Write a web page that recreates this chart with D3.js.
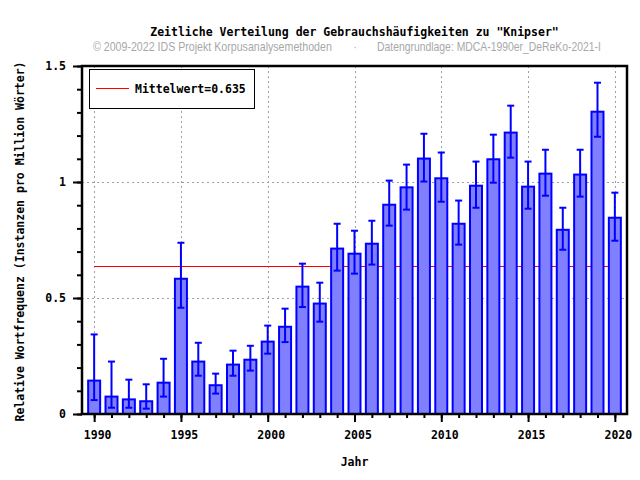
<!DOCTYPE html>
<html>
<head>
<meta charset="utf-8">
<script src="https://cdn.jsdelivr.net/npm/d3@7"></script>
<style>
  html, body { margin: 0; padding: 0; background: #fff; }
  svg { display: block; }
  .mono { font-family: "DejaVu Sans Mono", "Liberation Mono", monospace; font-weight: bold; font-size: 11.5px; fill: #000; }
  .meanline { stroke: #ff0000; stroke-width: 1px; }
</style>
</head>
<body>
<svg id="chart" width="640" height="480"></svg>
<script>
const years = d3.range(1990, 2021);
const values = [0.144, 0.075, 0.063, 0.055, 0.135, 0.583, 0.226, 0.124, 0.213, 0.234, 0.312,
                0.376, 0.549, 0.476, 0.713, 0.691, 0.734, 0.902, 0.977, 1.101, 1.016,
                0.820, 0.984, 1.098, 1.213, 0.980, 1.036, 0.794, 1.032, 1.303, 0.846];
const errHigh = [0.343, 0.226, 0.148, 0.128, 0.238, 0.738, 0.307, 0.174, 0.273, 0.294, 0.381,
                 0.454, 0.648, 0.566, 0.820, 0.790, 0.833, 1.006, 1.075, 1.208, 1.127,
                 0.920, 1.088, 1.204, 1.329, 1.088, 1.139, 0.889, 1.139, 1.428, 0.954];
const errLow = [0.060, 0.027, 0.027, 0.023, 0.075, 0.458, 0.165, 0.088, 0.165, 0.187, 0.260,
                0.310, 0.461, 0.398, 0.618, 0.605, 0.644, 0.812, 0.881, 1.002, 0.915,
                0.730, 0.889, 0.997, 1.105, 0.885, 0.941, 0.708, 0.937, 1.195, 0.747];
const meanValue = 0.635;
const xMajorTicks = [1990, 1995, 2000, 2005, 2010, 2015, 2020];
const yMajorTicks = [0, 0.5, 1, 1.5];
const yMinorTicks = d3.range(0, 16).map(d => d / 10);
const titleText = 'Zeitliche Verteilung der Gebrauchshäufigkeiten zu "Knipser"';
const creditText = "© 2009-2022 IDS Projekt Korpusanalysemethoden";
const sourceText = "Datengrundlage: MDCA-1990er_DeReKo-2021-I";
const xLabel = "Jahr";
const yLabel = "Relative Wortfrequenz (Instanzen pro Million Wörter)";
const legendLabel = "Mittelwert=0.635";

const svg = d3.select("#chart");
const L = 82, R = 627, T = 66, B = 414;
const x = d3.scaleLinear().domain([1989.3, 2020.7]).range([L, R]);
const y = d3.scaleLinear().domain([0, 1.5]).range([B, T]);
const data = years.map((yr, i) => ({ yr, v: values[i], hi: errHigh[i], lo: errLow[i] }));

// grid
const grid = svg.append("g").attr("stroke", "#a0a0a0").attr("stroke-width", 1).attr("stroke-dasharray", "2,3");
grid.selectAll("line.v").data(xMajorTicks).join("line").attr("class", "v")
  .attr("x1", d => Math.round(x(d)) + 0.5).attr("x2", d => Math.round(x(d)) + 0.5)
  .attr("y1", T).attr("y2", B);
grid.selectAll("line.h").data(yMajorTicks.filter(d => d > 0 && d < 1.5)).join("line").attr("class", "h")
  .attr("x1", L).attr("x2", R)
  .attr("y1", d => Math.round(y(d)) + 0.5).attr("y2", d => Math.round(y(d)) + 0.5);

// mean line
svg.append("line").attr("class", "meanline")
  .attr("x1", x(1990)).attr("x2", x(2020))
  .attr("y1", Math.round(y(meanValue)) - 0.5).attr("y2", Math.round(y(meanValue)) - 0.5)
  .style("stroke", "#ff0000");

// bars
const barW = 12;
svg.append("g").selectAll("rect").data(data).join("rect")
  .attr("x", d => x(d.yr) - barW / 2)
  .attr("width", barW)
  .attr("y", d => y(d.v))
  .attr("height", d => y(0) - y(d.v))
  .attr("fill", "#8080ff")
  .attr("stroke", "#0000ff")
  .attr("stroke-width", 2);

// error bars
const eb = svg.append("g").attr("stroke", "#0000ff").attr("stroke-width", 2);
eb.selectAll("line.s").data(data).join("line").attr("class", "s")
  .attr("x1", d => x(d.yr)).attr("x2", d => x(d.yr))
  .attr("y1", d => y(d.hi)).attr("y2", d => y(d.lo));
eb.selectAll("line.t").data(data).join("line").attr("class", "t")
  .attr("x1", d => x(d.yr) - 3.5).attr("x2", d => x(d.yr) + 3.5)
  .attr("y1", d => y(d.hi)).attr("y2", d => y(d.hi));
eb.selectAll("line.b").data(data).join("line").attr("class", "b")
  .attr("x1", d => x(d.yr) - 3.5).attr("x2", d => x(d.yr) + 3.5)
  .attr("y1", d => y(d.lo)).attr("y2", d => y(d.lo));

// frame
svg.append("rect").attr("x", L).attr("y", T).attr("width", R - L).attr("height", B - T)
  .attr("fill", "none").attr("stroke", "#000").attr("stroke-width", 2.5);

// x axis
const xMinor = d3.axisBottom(x).tickValues(years).tickSize(4).tickFormat("").tickSizeOuter(0);
const gxm = svg.append("g").attr("transform", `translate(0,${B})`).call(xMinor);
const xMajor = d3.axisBottom(x).tickValues(xMajorTicks).tickSize(8).tickFormat(d3.format("d")).tickSizeOuter(0).tickPadding(9);
const gx = svg.append("g").attr("transform", `translate(0,${B})`).call(xMajor);
[gxm, gx].forEach(g => {
  g.select(".domain").remove();
  g.selectAll(".tick line").attr("stroke", "#000").attr("stroke-width", 2);
});
gx.selectAll(".tick text").attr("class", "mono").attr("dx", 3).style("font-size", "11.5px");

// y axis
const yMinor = d3.axisLeft(y).tickValues(yMinorTicks).tickSize(5).tickFormat("").tickSizeOuter(0);
const gym = svg.append("g").attr("transform", `translate(${L},0)`).call(yMinor);
const yMajor = d3.axisLeft(y).tickValues(yMajorTicks).tickSize(9).tickFormat(d => d === 0 ? "0" : String(d)).tickSizeOuter(0).tickPadding(7);
const gy = svg.append("g").attr("transform", `translate(${L},0)`).call(yMajor);
[gym, gy].forEach(g => {
  g.select(".domain").remove();
  g.selectAll(".tick line").attr("stroke", "#000").attr("stroke-width", 2);
});
gy.selectAll(".tick text").attr("class", "mono").style("font-size", "11.5px");

// legend
const lg = svg.append("g");
lg.append("rect").attr("x", 89.5).attr("y", 69.5).attr("width", 165).attr("height", 39)
  .attr("fill", "#fff").attr("stroke", "#000").attr("stroke-width", 1);
lg.append("line").attr("class", "meanline").attr("x1", 96).attr("x2", 129).attr("y1", 88.5).attr("y2", 88.5);
lg.append("text").attr("class", "mono").attr("x", 135).attr("y", 92.5).text(legendLabel);

// titles
svg.append("text").attr("class", "mono").attr("x", (L + R) / 2).attr("y", 36)
  .attr("text-anchor", "middle").text(titleText);

// subtitle pieces: scale horizontally so the natural width matches the reference
function subText(str, x0, width) {
  const t = svg.append("text")
    .attr("x", 0).attr("y", 0)
    .attr("font-family", "'Liberation Sans Narrow', 'Arial Narrow', 'Liberation Sans', sans-serif")
    .attr("font-size", "12px").attr("fill", "#a8a8a8")
    .text(str);
  const w = t.node().getComputedTextLength() || width;
  t.attr("transform", `translate(${x0},50.5) scale(${width / w},1)`);
  return t;
}
subText(creditText, 93, 239);
subText(sourceText, 377, 224);
svg.append("text").attr("x", 355).attr("y", 51).attr("text-anchor", "middle")
  .attr("font-family", "'Liberation Sans', sans-serif").attr("font-size", "11px").attr("fill", "#a8a8a8").text("·");

svg.append("text").attr("class", "mono").attr("x", (L + R) / 2).attr("y", 466)
  .attr("text-anchor", "middle").text(xLabel);
svg.append("text").attr("class", "mono")
  .attr("transform", `translate(24,${(60 + 423) / 2}) rotate(-90)`)
  .attr("text-anchor", "middle").text(yLabel);
</script>
</body>
</html>
